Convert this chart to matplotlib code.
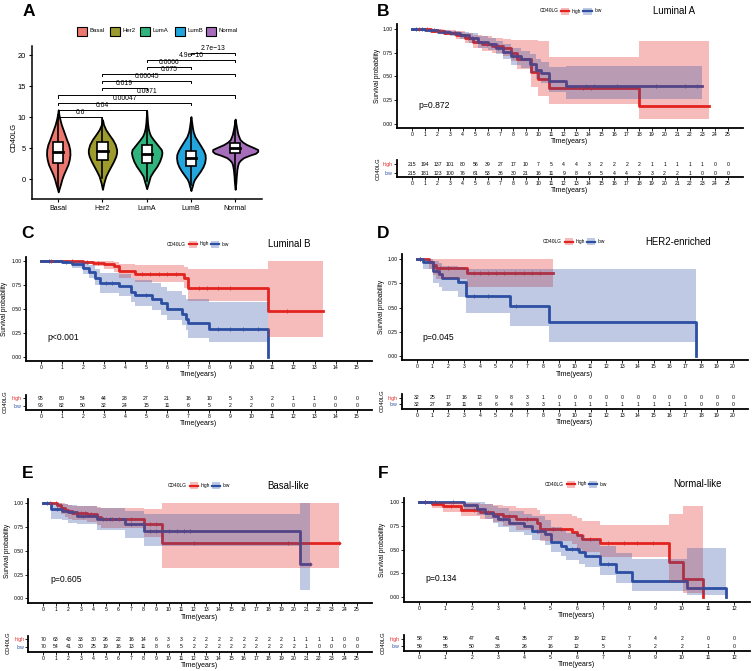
import numpy as np
import matplotlib.pyplot as plt
from matplotlib.patches import Rectangle

plt.rcParams['font.family'] = ['Liberation Sans', 'DejaVu Sans']

W, H = 753, 671
RED = '#E3231F'
BLUE = '#2D4FA3'

# ---------------- panel A: CD40LG by PAM50 subtype ----------------
groups = ['Basal', 'Her2', 'LumA', 'LumB', 'Normal']
group_colors = ['#EC776E', '#9D9B2E', '#2EB47C', '#23A6DE', '#A66DBA']

# violin outlines: (CD40LG value, half width)
basal_violin = [(-2.0, 0), (-1.5, 0.02), (-0.8, 0.05), (0.0, 0.08), (0.8, 0.12), (1.6, 0.17),
                (2.4, 0.22), (3.2, 0.25), (4.0, 0.265), (4.8, 0.26), (5.6, 0.235), (6.4, 0.19),
                (7.2, 0.15), (8.0, 0.11), (8.8, 0.07), (9.6, 0.04), (10.4, 0.015), (11.2, 0)]
her2_violin = [(-1.6, 0), (-1.1, 0.015), (-0.6, 0.03), (0.5, 0.075), (1.3, 0.13), (2.1, 0.19),
               (2.9, 0.25), (3.7, 0.30), (4.3, 0.32), (4.8, 0.32), (5.6, 0.29), (6.4, 0.23),
               (7.2, 0.15), (8.0, 0.075), (8.8, 0.025), (9.6, 0)]
luma_violin = [(-1.5, 0), (-1.0, 0.02), (-0.4, 0.045), (0.5, 0.08), (1.3, 0.15), (2.1, 0.23),
               (2.9, 0.29), (3.7, 0.33), (4.3, 0.345), (4.8, 0.33), (5.6, 0.24), (6.4, 0.15),
               (7.0, 0.09), (7.5, 0.06), (8.2, 0.035), (9.0, 0.02), (10.0, 0.01), (11.0, 0)]
lumb_violin = [(-1.8, 0), (-1.4, 0.015), (-1.1, 0.03), (-0.5, 0.05), (0.0, 0.08), (0.6, 0.14),
               (1.3, 0.21), (2.0, 0.27), (2.7, 0.31), (3.4, 0.325), (4.0, 0.32), (4.7, 0.28),
               (5.3, 0.23), (6.1, 0.16), (6.9, 0.09), (7.7, 0.05), (8.5, 0.03), (9.3, 0.015), (10.1, 0)]
normal_violin = [(-1.6, 0), (-0.6, 0.015), (0.5, 0.025), (1.6, 0.04), (2.2, 0.055), (2.7, 0.075),
                 (3.1, 0.12), (3.5, 0.19), (3.9, 0.33), (4.2, 0.46), (4.5, 0.51), (4.8, 0.51),
                 (5.1, 0.42), (5.6, 0.26), (6.0, 0.17), (6.4, 0.11), (7.2, 0.065), (8.0, 0.04),
                 (8.8, 0.02), (9.7, 0)]

box_q1 = [2.68, 3.11, 2.68, 2.2, 4.2]
box_med = [4.45, 4.55, 4.06, 3.5, 5.0]
box_q3 = [6.06, 6.06, 5.5, 4.56, 5.8]
whisk_lo = [-1.4, 0.2, -0.3, -0.9, -0.3]
whisk_hi = [10.4, 9.9, 11.0, 9.0, 9.4]

sig_pairs = [(1, 2), (1, 3), (1, 4), (1, 5), (2, 3), (2, 4), (2, 5), (3, 4), (3, 5), (4, 5)]
sig_labels = ['0.6', '0.04', '0.00047', '0.0071', '0.019', '0.00045', '0.075', '0.0066',
              '4.9e\u221210', '2.7e\u221213']
sig_levels = [10.1, 11.2, 12.35, 13.5, 14.7, 15.85, 17.0, 18.1, 19.2, 20.4]

# ---------------- KM curves: (time, surv, lower, upper) ----------------
luma_high = [(0, 1.0, 1.0, 1.0), (1.5, 0.98, 0.96, 1.0), (2.5, 0.96, 0.93, 0.99), (3.5, 0.93, 0.89, 0.98),
             (4.2, 0.90, 0.85, 0.96), (4.8, 0.86, 0.80, 0.93), (5.5, 0.84, 0.77, 0.92), (6.3, 0.82, 0.74, 0.90),
             (7.2, 0.80, 0.71, 0.89), (7.8, 0.75, 0.66, 0.88), (8.3, 0.68, 0.58, 0.88), (9.4, 0.55, 0.39, 0.88),
             (10.0, 0.47, 0.29, 0.87), (10.8, 0.38, 0.21, 0.70), (18.0, 0.19, 0.05, 0.87), (23.5, 0.19, 0.05, 0.87)]
luma_low = [(0, 1.0, 1.0, 1.0), (1.0, 0.99, 0.97, 1.0), (2.0, 0.97, 0.95, 0.99), (3.0, 0.95, 0.92, 0.98),
            (3.8, 0.93, 0.89, 0.97), (4.5, 0.90, 0.85, 0.95), (5.2, 0.86, 0.80, 0.92), (6.0, 0.84, 0.78, 0.90),
            (6.6, 0.80, 0.73, 0.87), (7.2, 0.76, 0.68, 0.84), (7.8, 0.71, 0.62, 0.80), (8.6, 0.68, 0.59, 0.77),
            (9.3, 0.63, 0.53, 0.73), (9.8, 0.57, 0.47, 0.68), (10.2, 0.53, 0.43, 0.65), (10.8, 0.45, 0.34, 0.60),
            (12.2, 0.40, 0.26, 0.61), (23.0, 0.40, 0.26, 0.61)]
luma_high_cens = [0.5, 1.2, 2.2, 3.3, 4.4, 5.9, 6.8, 13.5, 14.2]
luma_low_cens = [0.3, 0.8, 1.7, 2.6, 3.4, 4.7, 6.8, 8.0, 13.8, 14.4, 16.2, 19.3, 21.6, 22.6]
luma_risk_high = [215, 194, 137, 101, 80, 56, 39, 27, 17, 10, 7, 5, 4, 4, 3, 2, 2, 2, 2, 1, 1, 1, 1, 1, 0, 0]
luma_risk_low = [215, 181, 123, 100, 76, 61, 53, 36, 30, 21, 16, 11, 9, 8, 6, 5, 4, 4, 3, 3, 2, 2, 1, 0, 0, 0]

lumb_high = [(0, 1.0, 1.0, 1.0), (2.0, 0.99, 0.97, 1.0), (2.5, 0.98, 0.95, 1.0), (3.0, 0.97, 0.92, 1.0),
             (3.5, 0.95, 0.89, 0.99), (3.7, 0.90, 0.83, 0.97), (4.5, 0.87, 0.78, 0.96), (6.8, 0.83, 0.72, 0.94),
             (7.0, 0.72, 0.58, 0.92), (10.8, 0.48, 0.21, 1.0), (13.4, 0.48, 0.21, 1.0)]
lumb_low = [(0, 1.0, 1.0, 1.0), (1.0, 0.99, 0.97, 1.0), (1.5, 0.97, 0.93, 1.0), (2.0, 0.93, 0.87, 0.99),
            (2.3, 0.89, 0.82, 0.96), (2.6, 0.83, 0.75, 0.92), (2.8, 0.77, 0.67, 0.88), (3.7, 0.74, 0.64, 0.87),
            (4.3, 0.68, 0.57, 0.82), (4.5, 0.65, 0.53, 0.80), (5.3, 0.61, 0.49, 0.77), (5.7, 0.56, 0.44, 0.73),
            (6.0, 0.50, 0.38, 0.69), (6.7, 0.45, 0.33, 0.65), (6.9, 0.40, 0.28, 0.61), (7.0, 0.35, 0.20, 0.61),
            (8.0, 0.29, 0.15, 0.57), (10.8, 0.0, 0.15, 0.57), (10.8, 0.0, 0.15, 0.57)]
lumb_high_cens = [0.5, 1.5, 2.2, 2.7, 4.8, 5.2, 5.6, 6.0, 6.4, 7.5, 7.9, 8.4, 9.0, 11.7]
lumb_low_cens = [0.4, 1.2, 3.1, 3.4, 5.0, 8.4, 9.0, 9.6, 10.3]
lumb_risk_high = [95, 80, 54, 44, 28, 27, 21, 16, 10, 5, 3, 2, 1, 1, 0, 0]
lumb_risk_low = [96, 82, 50, 32, 24, 15, 11, 6, 5, 2, 2, 0, 0, 0, 0, 0]

her2_high = [(0, 1.0, 1.0, 1.0), (0.8, 0.97, 0.90, 1.0), (1.0, 0.94, 0.84, 1.0), (1.2, 0.91, 0.80, 1.0),
             (3.2, 0.86, 0.71, 1.0), (8.6, 0.86, 0.71, 1.0)]
her2_low = [(0, 1.0, 1.0, 1.0), (0.4, 0.97, 0.90, 1.0), (1.0, 0.94, 0.82, 1.0), (1.05, 0.88, 0.75, 0.98),
            (1.4, 0.85, 0.71, 0.96), (1.6, 0.81, 0.67, 0.93), (2.6, 0.76, 0.61, 0.92), (3.1, 0.62, 0.44, 0.90),
            (5.9, 0.52, 0.31, 0.90), (8.4, 0.35, 0.14, 0.90), (17.7, 0.0, 0.14, 0.90), (17.7, 0.0, 0.14, 0.90)]
her2_high_cens = [0.2, 1.5, 2.0, 3.6, 4.0, 4.5, 5.0, 5.5, 6.2, 6.8, 7.3, 7.8]
her2_low_cens = [0.2, 1.3, 3.6, 4.5, 6.3]
her2_risk_high = [32, 25, 17, 16, 12, 9, 8, 3, 1, 0, 0, 0, 0, 0, 0, 0, 0, 0, 0, 0, 0]
her2_risk_low = [32, 27, 16, 11, 8, 6, 4, 3, 3, 1, 1, 1, 1, 1, 1, 1, 1, 1, 0, 0, 0]

basal_high = [(0, 1.0, 1.0, 1.0), (1.1, 0.98, 0.94, 1.0), (1.4, 0.95, 0.89, 1.0), (1.7, 0.93, 0.86, 0.99),
              (2.0, 0.92, 0.84, 0.98), (2.3, 0.90, 0.82, 0.97), (3.5, 0.89, 0.80, 0.97), (4.3, 0.86, 0.77, 0.96),
              (4.6, 0.84, 0.74, 0.95), (8.0, 0.78, 0.65, 0.94), (9.5, 0.58, 0.32, 1.0), (23.6, 0.58, 0.32, 1.0)]
basal_low = [(0, 1.0, 1.0, 1.0), (0.6, 0.94, 0.84, 1.0), (1.5, 0.92, 0.82, 0.99), (2.0, 0.91, 0.79, 0.98),
             (2.7, 0.87, 0.78, 0.97), (4.3, 0.83, 0.72, 0.95), (6.5, 0.78, 0.63, 0.92), (8.0, 0.71, 0.55, 0.89),
             (20.5, 0.36, 0.09, 1.0), (21.3, 0.36, 0.09, 1.0)]
basal_high_cens = [0.5, 1.0, 2.6, 3.0, 3.3, 3.8, 5.0, 5.5, 6.0, 7.0, 8.5, 9.0, 12.0, 19.5, 23.6]
basal_low_cens = [0.3, 1.1, 2.4, 3.2, 4.8, 5.3, 7.0, 8.5, 9.0, 9.5, 10.0, 10.7, 11.2, 11.7, 21.3]
basal_risk_high = [70, 63, 43, 33, 30, 26, 22, 16, 14, 6, 3, 3, 2, 2, 2, 2, 2, 2, 2, 2, 1, 1, 1, 1, 0, 0]
basal_risk_low = [70, 54, 41, 30, 25, 19, 16, 13, 11, 8, 6, 5, 2, 2, 2, 2, 2, 2, 2, 2, 2, 1, 0, 0, 0, 0]

normal_high = [(0, 1.0, 1.0, 1.0), (0.5, 0.98, 0.94, 1.0), (0.9, 0.96, 0.90, 1.0), (1.6, 0.92, 0.85, 0.99),
               (2.3, 0.90, 0.82, 0.98), (2.8, 0.88, 0.79, 0.97), (3.2, 0.85, 0.75, 0.96), (3.7, 0.82, 0.71, 0.94),
               (4.5, 0.78, 0.66, 0.92), (4.6, 0.72, 0.59, 0.88), (5.8, 0.69, 0.56, 0.86), (6.0, 0.65, 0.51, 0.83),
               (6.2, 0.61, 0.47, 0.80), (6.9, 0.57, 0.42, 0.76), (9.5, 0.37, 0.16, 0.88), (10.05, 0.19, 0.04, 0.96),
               (10.8, 0.0, 0.04, 0.96), (10.8, 0.0, 0.04, 0.96)]
normal_low = [(0, 1.0, 1.0, 1.0), (1.7, 0.97, 0.92, 1.0), (2.2, 0.93, 0.87, 1.0), (2.5, 0.89, 0.82, 0.98),
              (2.8, 0.86, 0.78, 0.96), (3.0, 0.82, 0.74, 0.94), (3.4, 0.78, 0.69, 0.91), (4.0, 0.75, 0.65, 0.88),
              (4.3, 0.70, 0.60, 0.85), (4.8, 0.66, 0.55, 0.81), (5.0, 0.58, 0.47, 0.74), (5.4, 0.54, 0.43, 0.71),
              (5.6, 0.51, 0.39, 0.68), (6.1, 0.47, 0.35, 0.65), (6.3, 0.43, 0.31, 0.61), (6.9, 0.35, 0.23, 0.54),
              (7.5, 0.26, 0.15, 0.46), (8.1, 0.17, 0.06, 0.40), (10.2, 0.09, 0.02, 0.52), (11.7, 0.0, 0.02, 0.52),
              (11.7, 0.0, 0.02, 0.52)]
normal_high_cens = [0.2, 1.2, 2.1, 2.6, 3.4, 4.1, 5.1, 5.4, 6.5, 7.2, 7.8, 8.3, 8.9]
normal_low_cens = [0.2, 0.6, 1.3, 3.2, 4.5, 5.8, 6.0, 7.2]
normal_risk_high = [58, 56, 47, 41, 35, 27, 19, 12, 7, 4, 2, 0, 0]
normal_risk_low = [59, 55, 50, 38, 26, 16, 12, 5, 3, 2, 2, 1, 0]


fig = plt.figure(figsize=(W / 100, H / 100), dpi=100)

# overlay in pixel coordinates for free text / legend keys
ov = fig.add_axes([0, 0, 1, 1], zorder=10)
ov.set_xlim(0, W)
ov.set_ylim(H, 0)
ov.axis('off')


def px_axes(l, r, t, b):
    return fig.add_axes([l / W, 1 - b / H, (r - l) / W, (b - t) / H])


def style_spines(ax, lw=1.3):
    for s in ['top', 'right']:
        ax.spines[s].set_visible(False)
    for s in ['left', 'bottom']:
        ax.spines[s].set_linewidth(lw)


# ---------------- panel A ----------------
axA = px_axes(31.7, 261.7, 45.7, 199.3)
axA.set_xlim(0.40, 5.60)
axA.set_ylim(-3.2, 21.5)
style_spines(axA, 1.1)
violins = [basal_violin, her2_violin, luma_violin, lumb_violin, normal_violin]
for i, (prof, col) in enumerate(zip(violins, group_colors)):
    c = i + 1
    v = np.array([p[0] for p in prof])
    hw = np.array([p[1] for p in prof])
    axA.fill_betweenx(v, c - hw, c + hw, facecolor=col, edgecolor='black', lw=1.3, zorder=2)
    axA.plot([c, c], [whisk_lo[i], whisk_hi[i]], color='black', lw=1.2, zorder=3)
    axA.add_patch(Rectangle((c - 0.115, box_q1[i]), 0.23, box_q3[i] - box_q1[i],
                            facecolor='white', edgecolor='black', lw=1.2, zorder=4))
    axA.plot([c - 0.115, c + 0.115], [box_med[i], box_med[i]], color='black', lw=2.0, zorder=5)
for (a, b), lab, lev in zip(sig_pairs, sig_labels, sig_levels):
    axA.plot([a, a, b, b], [lev - 0.4, lev, lev, lev - 0.4], color='black', lw=0.7, zorder=6)
    axA.text((a + b) / 2, lev + 0.1, lab, ha='center', va='bottom', fontsize=4.9, zorder=6)
axA.set_xticks(range(1, 6))
axA.set_xticklabels(groups, fontsize=5)
axA.set_yticks([0, 5, 10, 15, 20])
axA.tick_params(axis='y', labelsize=5.4, length=2.5, width=0.8, pad=1.5, colors='black')
axA.tick_params(axis='x', length=2.5, width=0.8, pad=1.5)
ov.text(14, 137, 'CD40LG', rotation=90, ha='center', va='center', fontsize=5.4)

legA_sw = [77, 110, 140, 175, 206]
for x, g, col in zip(legA_sw, groups, group_colors):
    ov.add_patch(Rectangle((x, 26.5), 10, 9, facecolor=col, edgecolor='black', lw=0.8))
    ov.text(x + 13, 31, g, ha='left', va='center', fontsize=4.3)


# ---------------- KM panels ----------------
def step_value(rows, t):
    ts = [r[0] for r in rows]
    k = np.searchsorted(ts, t, side='right') - 1
    return rows[max(k, 0)][1]


def km_panel(box, tmax, curves, cens, risk, risk_rows, title, ptxt, p_xy, leg_xy, title_x, ylab_x):
    left, right, x0, xt, y1, y0, bottom = box
    sx = (xt - x0) / tmax
    sy = y0 - y1
    top = y1 - 0.05 * sy
    ax = px_axes(left, right, top, bottom)
    ax.set_xlim((left - x0) / sx, (right - x0) / sx)
    ax.set_ylim(-(bottom - y0) / sy, 1.05)
    style_spines(ax)
    cols = [RED, BLUE]
    for rows, col in zip(curves, cols):
        t = [r[0] for r in rows]
        s = [r[1] for r in rows]
        ax.step(t, s, where='post', color=col, lw=2.0, zorder=2)
    for rows, cs, col in zip(curves, cens, cols):
        ax.plot(cs, [step_value(rows, c) for c in cs], '+', color=col, ms=2.5, mew=0.6, zorder=2)
    for rows, col in zip(curves, cols):
        t = [r[0] for r in rows]
        lo = [r[2] for r in rows]
        hi = [r[3] for r in rows]
        ax.fill_between(t, lo, hi, step='post', color=col, alpha=0.3, lw=0, zorder=3)
    ax.set_xticks(range(0, tmax + 1))
    ax.set_yticks([0, 0.25, 0.5, 0.75, 1.0])
    ax.set_yticklabels(['0.00', '0.25', '0.50', '0.75', '1.00'])
    ax.tick_params(labelsize=3.7, length=2, width=0.6, pad=1, colors='black')

    cx = (left + right) / 2
    ov.text(cx, bottom + 14, 'Time(years)', ha='center', va='center', fontsize=5)
    ov.text(ylab_x, (top + bottom) / 2, 'Survival probability', rotation=90,
            ha='center', va='center', fontsize=4.7)
    ov.text(p_xy[0], p_xy[1], ptxt, ha='left', va='center', fontsize=6.2)
    ov.text(title_x, leg_xy[1], title, ha='center', va='center', fontsize=6.9)

    # legend
    lx, ly = leg_xy
    ov.text(lx, ly, 'CD40LG', ha='left', va='center', fontsize=3.5)
    for dx, col, lab in [(21.7, RED, 'high'), (44, BLUE, 'low')]:
        ov.add_patch(Rectangle((lx + dx, ly - 3.5), 8.5, 7, facecolor=col, alpha=0.3, lw=0))
        ov.plot([lx + dx, lx + dx + 8.5], [ly, ly], color=col, lw=1.6)
        ov.text(lx + dx + 11, ly, lab, ha='left', va='center', fontsize=3.5)

    # risk table
    r_high, r_low, r_axis = risk_rows
    rs = r_low - r_high
    rax = px_axes(left, right, r_high - 0.6 * rs, r_axis)
    rax.set_xlim(ax.get_xlim())
    rax.set_ylim(-(r_axis - r_low) / rs, 1.6)
    style_spines(rax)
    rax.spines['left'].set_bounds(-(r_axis - r_low) / rs, 1.5)
    for tt, (nh, nl) in enumerate(zip(risk[0], risk[1])):
        rax.text(tt, 1, str(nh), ha='center', va='center', fontsize=3.7)
        rax.text(tt, 0, str(nl), ha='center', va='center', fontsize=3.7)
    rax.set_xticks(range(0, tmax + 1))
    rax.set_yticks([1, 0])
    rax.set_yticklabels(['high', 'low'])
    rax.tick_params(labelsize=3.7, length=2, width=0.6, pad=1, colors='black')
    rax.get_yticklabels()[0].set_color(RED)
    rax.get_yticklabels()[1].set_color(BLUE)
    ov.text(cx, r_axis + 13.5, 'Time(years)', ha='center', va='center', fontsize=5)
    ov.text(ylab_x, (r_high + r_low) / 2, 'CD40LG', rotation=90, ha='center', va='center', fontsize=4.2)


km_panel((396.7, 743.3, 412.3, 727.7, 28.7, 124.0, 127.7), 25,
         [luma_high, luma_low], [luma_high_cens, luma_low_cens], [luma_risk_high, luma_risk_low],
         (164.3, 173.0, 177.3), 'Luminal A', 'p=0.872', (418, 106), (539.3, 11), 674, 378)
km_panel((26.0, 371.7, 40.7, 356.7, 261.3, 356.7, 360.7), 15,
         [lumb_high, lumb_low], [lumb_high_cens, lumb_low_cens], [lumb_risk_high, lumb_risk_low],
         (398.3, 405.7, 410.0), 'Luminal B', 'p<0.001', (47, 338), (167, 244), 289, 5)
km_panel((401.7, 748.3, 416.7, 732.7, 259.3, 355.7, 360.0), 20,
         [her2_high, her2_low], [her2_high_cens, her2_low_cens], [her2_risk_high, her2_risk_low],
         (397.7, 404.3, 409.3), 'HER2-enriched', 'p=0.045', (422.7, 337.3), (543, 241.7), 678.5, 382)
km_panel((28.3, 371.7, 43.3, 356.7, 503.3, 598.3, 603.3), 25,
         [basal_high, basal_low], [basal_high_cens, basal_low_cens], [basal_risk_high, basal_risk_low],
         (639.3, 646.7, 651.7), 'Basal-like', 'p=0.605', (50, 580), (168, 485.7), 288.5, 8)
km_panel((404.0, 750.0, 419.3, 734.3, 502.3, 596.7, 601.7), 12,
         [normal_high, normal_low], [normal_high_cens, normal_low_cens], [normal_risk_high, normal_risk_low],
         (639.0, 646.3, 651.0), 'Normal-like', 'p=0.134', (425, 578.3), (545, 484), 697, 383)

# panel letters
for lab, x, y in [('A', 29, 11.5), ('B', 383, 11.5), ('C', 28, 233), ('D', 383, 233),
                  ('E', 28, 473), ('F', 383, 473)]:
    ov.text(x, y, lab, ha='center', va='center', fontsize=12.5, fontweight='bold')

fig.savefig('out.png', dpi=100)
